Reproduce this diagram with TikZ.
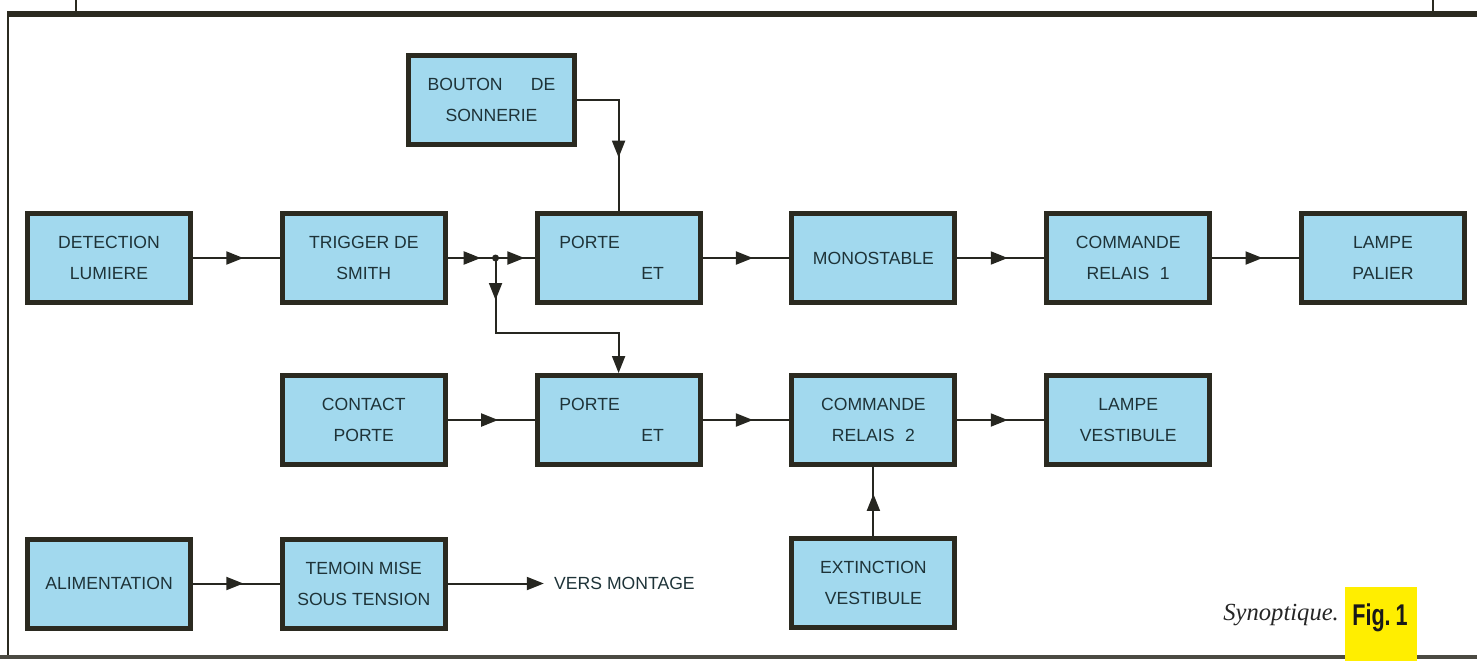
\documentclass[tikz,border=0pt]{standalone}
\usepackage{fontspec}
\setmainfont{Liberation Sans}
\newfontfamily\captionfont{Liberation Serif}
\newfontfamily\figfont[FakeStretch=0.72]{Liberation Sans}
\usepackage{tikz}
\usetikzlibrary{arrows.meta,positioning,calc,decorations.markings}
\definecolor{synblue}{HTML}{A2D9EE}
\definecolor{synframe}{HTML}{2B2A20}
\definecolor{syntext}{HTML}{1E3338}
\definecolor{synline}{HTML}{262620}
\definecolor{synyellow}{HTML}{FFEE00}

\begin{document}
\begin{tikzpicture}[
  x=0.5pt, y=0.5pt,
  node distance=43.4pt,
  box/.style={draw=synframe, line width=2.5pt, fill=synblue, align=center, minimum width=81.5pt, minimum height=44.5pt, inner sep=0pt, text=syntext, font=\fontsize{8.8}{15.5}\selectfont},
  link/.style={line width=1pt, synline},
  midarrow/.style={postaction={decorate}, decoration={markings, mark=at position #1 with {\arrow{Triangle[length=8.5pt,width=6.5pt]}}}},
  midarrow/.default=0.58,
  endarrow/.style={-{Triangle[length=8.5pt,width=6.5pt]}}
]
\useasboundingbox (0,-661) rectangle (1477,0);

% page frame
\draw[synframe, line width=3pt] (7,-13.5) -- (1477,-13.5);
\draw[synframe, line width=1.2pt] (8,-13.5) -- (8,-657);
\draw[synframe!85, line width=2pt] (0,-657) -- (1477,-657);
\draw[synframe, line width=1pt] (76,0) -- (76,-13.5);
\draw[synframe, line width=1pt] (1433,0) -- (1433,-13.5);

% first row
\node[box] (det) at (109,-258) {DETECTION\\LUMIERE};
\node[box, right=of det] (trig) {TRIGGER DE\\SMITH};
\node[box, right=of trig] (porteA) {PORTE\hspace*{29pt}\\\hspace*{34pt}ET};
\node[box, right=of porteA] (mono) {MONOSTABLE};
\node[box, right=of mono] (cmdA) {COMMANDE\\RELAIS\hspace{0.6em}1};
\node[box, right=of cmdA] (palier) {LAMPE\\PALIER};
\node[box, minimum width=83pt] (bouton) at (491.5,-100) {BOUTON\hspace{1.6em}DE\\SONNERIE};

% second row
\node[box, below=34pt of trig] (contact) {CONTACT\\PORTE};
\node[box, right=of contact] (porteB) {PORTE\hspace*{29pt}\\\hspace*{34pt}ET};
\node[box, right=of porteB] (cmdB) {COMMANDE\\RELAIS\hspace{0.6em}2};
\node[box, right=of cmdB] (vest) {LAMPE\\VESTIBULE};
\node[box, below=34.5pt of cmdB] (ext) {EXTINCTION\\VESTIBULE};

% third row
\node[box] (alim) at (109,-583.5) {ALIMENTATION};
\node[box, right=of alim] (temoin) {TEMOIN MISE\\SOUS TENSION};
\node[right=48pt of temoin, inner xsep=5pt, text=syntext, font=\fontsize{8.8}{10}\selectfont] (vers) {VERS MONTAGE};

% connectors
\draw[link, midarrow] (det) -- (trig);
\coordinate (jn) at ($(trig.east)!0.55!(porteA.west)$);
\draw[link, midarrow=0.69] (trig) -- (jn);
\draw[link, midarrow=0.74] (jn) -- (porteA);
\fill[synline] (jn) circle (3.5);
\draw[link, midarrow=21pt, endarrow] (jn) -- ++(0,-75) -| (porteB.north);
\draw[link, midarrow=0.65] (bouton.east) -| (porteA.north);
\draw[link, midarrow] (porteA) -- (mono);
\draw[link, midarrow] (mono) -- (cmdA);
\draw[link, midarrow] (cmdA) -- (palier);
\draw[link, midarrow] (contact) -- (porteB);
\draw[link, midarrow] (porteB) -- (cmdB);
\draw[link, midarrow] (cmdB) -- (vest);
\draw[link, midarrow=0.61] (ext) -- (cmdB);
\draw[link, midarrow] (alim) -- (temoin);
\draw[link, endarrow] (temoin) -- (vers);

% caption
\fill[synyellow] (1345,-661) rectangle (1417,-587);
\node[anchor=base west, inner sep=0pt, text=black!85, font=\captionfont\itshape\fontsize{12.3}{14}\selectfont] (syn) at (1223,-620) {Synoptique.};
\node[anchor=base, inner sep=0pt, text=black!90, font=\figfont\bfseries\fontsize{15}{16}\selectfont] (fig) at (1380,-625) {Fig.\,1};
\end{tikzpicture}
\end{document}
